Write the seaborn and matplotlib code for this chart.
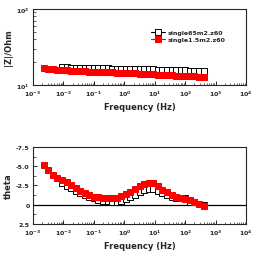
import numpy as np
import pandas as pd
import matplotlib
matplotlib.use("Agg")
import matplotlib.pyplot as plt
import seaborn as sns
from matplotlib.ticker import (LogLocator, LogFormatterMathtext, MultipleLocator,
                               FixedLocator, NullFormatter)

# frequencies (Hz)
freq_red = [0.00224, 0.00316, 0.00447, 0.00631, 0.00891, 0.0126, 0.0178, 0.0251, 0.0355,
            0.0501, 0.0708, 0.1, 0.141, 0.2, 0.282, 0.398, 0.562, 0.794, 1.12, 1.58, 2.24,
            3.16, 4.47, 6.31, 8.91, 12.6, 17.8, 25.1, 35.5, 50.1, 70.8, 100, 141, 200, 282, 398]
freq_blk = freq_red[4:]

# |Z| in Ohm
z_red = [16.6, 16.4, 16.1, 15.9, 15.7, 15.5, 15.4, 15.3, 15.2, 15.1, 15.0, 15.0, 14.9, 14.8,
         14.7, 14.6, 14.5, 14.5, 14.4, 14.3, 14.2, 14.1, 14.0, 13.9, 13.8, 13.7, 13.6, 13.5,
         13.4, 13.3, 13.2, 13.1, 13.1, 13.0, 12.9, 12.9]
z_blk = [17.1, 17.0, 16.9, 16.8, 16.8, 16.7, 16.7, 16.6, 16.6, 16.5, 16.5, 16.4, 16.4, 16.3,
         16.3, 16.3, 16.2, 16.2, 16.1, 16.0, 16.0, 15.9, 15.8, 15.8, 15.7, 15.6, 15.5, 15.5,
         15.4, 15.3, 15.3, 15.2]

# phase angle theta
th_red = [-5.2, -4.45, -3.8, -3.5, -3.25, -3.0, -2.5, -2.15, -1.8, -1.5, -1.3, -1.05, -0.93,
          -0.87, -0.83, -0.85, -0.92, -1.1, -1.35, -1.68, -2.0, -2.4, -2.65, -2.82, -2.75,
          -2.37, -1.9, -1.6, -1.3, -1.02, -0.85, -0.75, -0.6, -0.38, -0.12, 0.2]
th_blk = [-2.75, -2.45, -2.1, -1.8, -1.5, -1.25, -0.95, -0.8, -0.6, -0.5, -0.45, -0.35, -0.4,
          -0.5, -0.7, -0.95, -1.25, -1.6, -1.85, -2.0, -2.05, -1.8, -1.5, -1.25, -1.05, -0.9,
          -0.85, -0.8, -0.3, -0.3, -0.15, 0.0]

labels = ["single65m2.z60", "single1.5m2.z60"]

df_blk = pd.DataFrame({"f": freq_blk, "z": z_blk, "th": th_blk})
df_red = pd.DataFrame({"f": freq_red, "z": z_red, "th": th_red})

sns.set_style("ticks")
plt.rcParams["font.family"] = ["DejaVu Sans"]
plt.rcParams["font.weight"] = "bold"
plt.rcParams["mathtext.default"] = "bf"

fig = plt.figure(figsize=(2.54, 2.55), dpi=100)
ax1 = fig.add_axes([0.130, 0.663, 0.839, 0.298])
ax2 = fig.add_axes([0.130, 0.118, 0.839, 0.302])

blk_kw = dict(color="black", marker="s", markersize=4.2, markerfacecolor="white",
              markeredgecolor="black", markeredgewidth=0.7, linewidth=0.8)
red_kw = dict(color="red", marker="s", markersize=4.8, markerfacecolor="red",
              markeredgecolor="red", linewidth=0.8)

sns.lineplot(data=df_blk, x="f", y="z", ax=ax1, label=labels[0], **blk_kw)
sns.lineplot(data=df_red, x="f", y="z", ax=ax1, label=labels[1], **red_kw)
sns.lineplot(data=df_blk, x="f", y="th", ax=ax2, **blk_kw)
sns.lineplot(data=df_red, x="f", y="th", ax=ax2, **red_kw)
ax2.axhline(0, color="black", linewidth=0.9, zorder=1)

for ax in (ax1, ax2):
    ax.set_xscale("log")
    ax.set_xlim(1e-3, 1e4)
    ax.xaxis.set_major_locator(LogLocator(base=10, numticks=10))
    ax.xaxis.set_minor_locator(LogLocator(base=10, subs=np.arange(2, 10), numticks=20))
    ax.xaxis.set_major_formatter(LogFormatterMathtext())
    ax.xaxis.set_minor_formatter(NullFormatter())
    ax.set_xlabel("Frequency (Hz)", fontsize=6, fontweight="bold", labelpad=3)
    ax.tick_params(axis="both", which="major", direction="in", length=3, width=0.7,
                   labelsize=4.5, pad=2.5)
    ax.tick_params(axis="both", which="minor", direction="in", length=1.8, width=0.5)
    for s in ax.spines.values():
        s.set_linewidth(0.8)
        s.set_visible(True)

ax1.set_yscale("log")
ax1.set_ylim(10, 100)
ax1.yaxis.set_major_locator(FixedLocator([10, 100]))
ax1.yaxis.set_major_formatter(LogFormatterMathtext())
ax1.yaxis.set_minor_locator(LogLocator(base=10, subs=np.arange(2, 10), numticks=10))
ax1.yaxis.set_minor_formatter(NullFormatter())
ax1.set_ylabel("|Z|/Ohm", fontsize=6, fontweight="bold", labelpad=2)
leg = ax1.legend(loc="upper right", bbox_to_anchor=(0.93, 0.8), fontsize=4.5, frameon=False,
                 handlelength=2.2, handletextpad=0.4, labelspacing=0.3)

ax2.set_ylim(2.5, -7.5)
ax2.yaxis.set_major_locator(FixedLocator([-7.5, -5.0, -2.5, 0, 2.5]))
ax2.set_yticklabels(["-7.5", "-5.0", "-2.5", "0", "2.5"])
ax2.yaxis.set_minor_locator(MultipleLocator(1.25))
ax2.set_ylabel("theta", fontsize=6, fontweight="bold", labelpad=2)

fig.savefig("out.png", dpi=100)
